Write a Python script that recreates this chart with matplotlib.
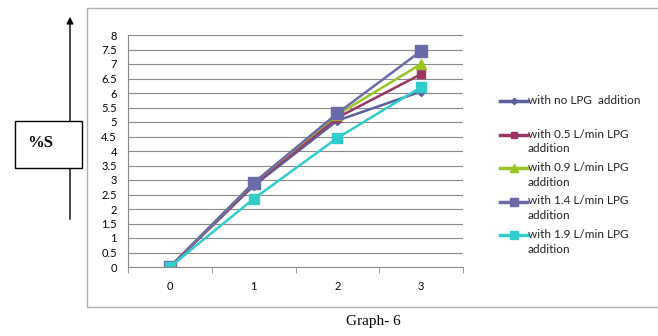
import matplotlib.pyplot as plt
from matplotlib.patches import Rectangle, FancyArrowPatch
from matplotlib.lines import Line2D

# sulphur removal data
x_vals = [0, 1, 2, 3]
no_lpg = [0, 2.8, 5.05, 6.05]
lpg_05 = [0, 2.85, 5.15, 6.65]
lpg_09 = [0, 2.9, 5.25, 7.0]
lpg_14 = [0, 2.9, 5.3, 7.45]
lpg_19 = [0, 2.35, 4.45, 6.2]

labels = ["with no LPG  addition",
          "with 0.5 L/min LPG\naddition",
          "with 0.9 L/min LPG\naddition",
          "with 1.4 L/min LPG\naddition",
          "with 1.9 L/min LPG\naddition"]
colors = ["#5B5F9E", "#9C3564", "#99C422", "#6A6AA8", "#33CCCC"]
markers = ["D", "s", "^", "s", "s"]
msizes = [4, 6, 7, 8, 7]

plt.rcParams['font.family'] = ['Lato', 'DejaVu Sans']

W, H = 658, 336
fig = plt.figure(figsize=(W / 100, H / 100), dpi=100)


def fx(px):
    return px / W


def fy(py):
    return 1 - py / H


# chart area frame
fig.patches.append(Rectangle((fx(87), fy(307)), fx(580), 299 / H,
                             transform=fig.transFigure, fill=False,
                             edgecolor="#b0b0b0", lw=1))

ax = fig.add_axes([fx(128), fy(267), fx(335), 232 / H])
series = [no_lpg, lpg_05, lpg_09, lpg_14, lpg_19]
for ys, c, m, ms, lab in zip(series, colors, markers, msizes, labels):
    ax.plot(x_vals, ys, color=c, marker=m, markersize=ms, lw=1.8, label=lab)

ax.set_xlim(-0.5, 3.5)
ax.set_ylim(0, 8)
ax.set_yticks([i * 0.5 for i in range(17)])
ax.set_yticklabels(["0", "0.5", "1", "1.5", "2", "2.5", "3", "3.5", "4", "4.5",
                    "5", "5.5", "6", "6.5", "7", "7.5", "8"])
ax.set_xticks(x_vals)
ax.set_xticks([-0.5, 0.5, 1.5, 2.5, 3.5], minor=True)
ax.tick_params(axis='x', which='major', length=0, pad=10, labelsize=8)
ax.tick_params(axis='x', which='minor', length=4, color="#888888")
ax.tick_params(axis='y', length=0, pad=8, labelsize=8)
ax.grid(axis='y', color="#888888", lw=0.8)
ax.set_axisbelow(True)
for s in ["top", "right"]:
    ax.spines[s].set_visible(False)
ax.spines["left"].set_color("#888888")
ax.spines["bottom"].set_color("#888888")

# legend, handle aligned with the first text line
for i, (c, m, ms, lab) in enumerate(zip(colors, markers, msizes, labels)):
    y = fy(101 + 33.5 * i)
    fig.add_artist(Line2D([fx(500), fx(527)], [y, y], transform=fig.transFigure,
                          color=c, lw=2.5))
    fig.add_artist(Line2D([fx(513.5)], [y], transform=fig.transFigure,
                          color=c, marker=m, markersize=ms * 0.8, lw=0))
    fig.text(fx(528), y + 6 / H, lab, ha="left", va="top", fontsize=8.5,
             linespacing=1.4, color="#222222")

# axis label box with arrow
fig.patches.append(FancyArrowPatch((fx(70), fy(222)), (fx(70), fy(14)),
                                   transform=fig.transFigure, arrowstyle="-|>",
                                   mutation_scale=10, color="black", lw=1))
fig.patches.append(Rectangle((fx(15), fy(168)), fx(67), 47 / H,
                             transform=fig.transFigure, fc="white",
                             ec="black", lw=1))
fig.text(fx(40), fy(143), "%S", ha="center", va="center", fontsize=12,
         fontweight="bold", family="Liberation Serif")

fig.text(fx(373), fy(322), "Graph- 6", ha="center", va="center",
         fontsize=11, family="Liberation Serif")

fig.savefig("out.png", dpi=100)
